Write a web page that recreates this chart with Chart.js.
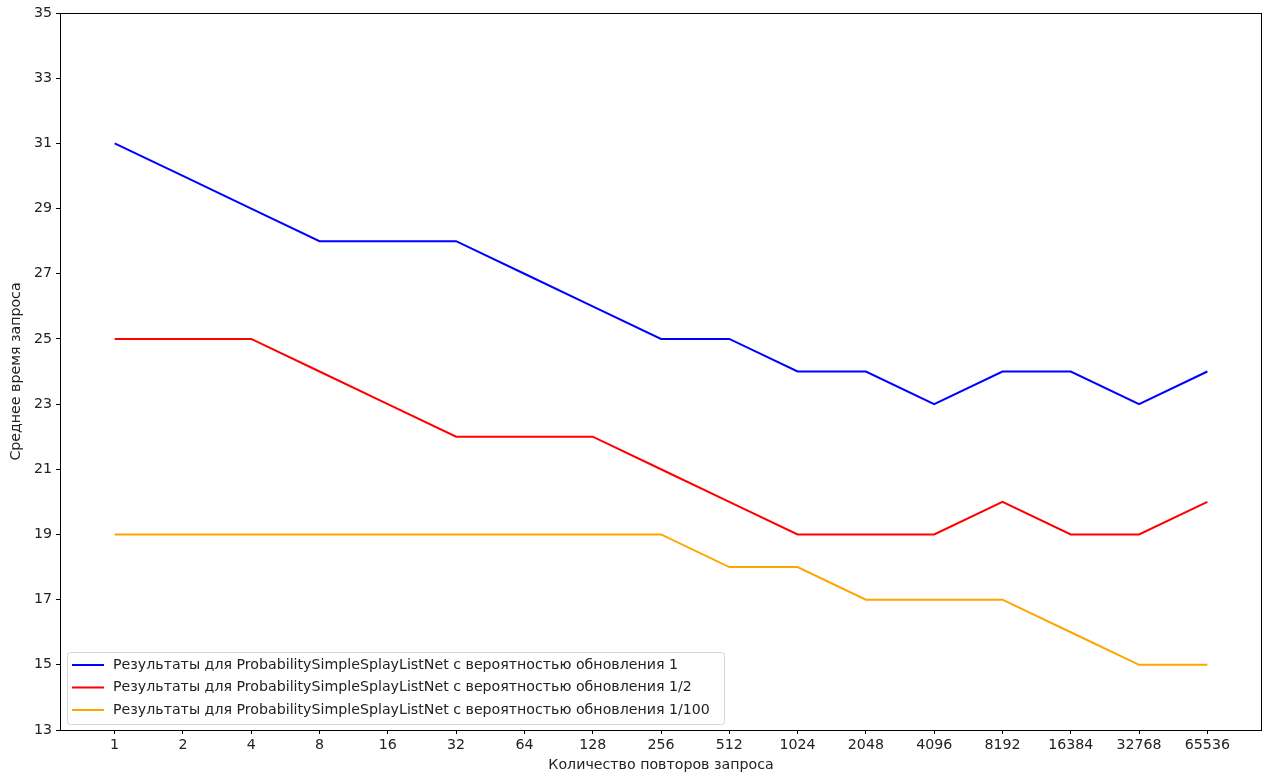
<!DOCTYPE html>
<html>
<head>
<meta charset="utf-8">
<script src="https://cdn.jsdelivr.net/npm/chart.js@4.4.1/dist/chart.umd.min.js"></script>
<style>
  html, body { margin: 0; padding: 0; background: #fff; }
  #wrap { width: 1272px; height: 776px; }
</style>
</head>
<body>
<div id="wrap"><canvas id="c" width="1272" height="776"></canvas></div>
<script>
// Number of query repetitions (x axis categories)
const repeats = ['1', '2', '4', '8', '16', '32', '64', '128', '256', '512', '1024', '2048', '4096', '8192', '16384', '32768', '65536'];

// Mean query time for each update probability
const probOne     = [31, 30, 29, 28, 28, 28, 27, 26, 25, 25, 24, 24, 23, 24, 24, 23, 24];
const probHalf    = [25, 25, 25, 24, 23, 22, 22, 22, 21, 20, 19, 19, 19, 20, 19, 19, 20];
const probHundred = [19, 19, 19, 19, 19, 19, 19, 19, 19, 18, 18, 17, 17, 17, 16, 15, 15];

// Y axis tick values
const yTicks = [13, 15, 17, 19, 21, 23, 25, 27, 29, 31, 33, 35];

const seriesLabels = [
  'Результаты для ProbabilitySimpleSplayListNet с вероятностью обновления 1',
  'Результаты для ProbabilitySimpleSplayListNet с вероятностью обновления 1/2',
  'Результаты для ProbabilitySimpleSplayListNet с вероятностью обновления 1/100'
];

const toPoints = vals => vals.map((v, i) => ({ x: i, y: v }));
const FONT = 'DejaVu Sans';
const FS = 14.2;

// Frame around the plotting area plus a legend box in the lower left corner
const framePlugin = {
  id: 'frame',
  afterDraw(chart) {
    const { ctx, chartArea: a } = chart;
    ctx.save();
    ctx.strokeStyle = '#000';
    ctx.lineWidth = 1;
    ctx.strokeRect(a.left + 0.5, a.top + 0.5, a.right - a.left - 1, a.bottom - a.top);

    // legend
    const bx = a.left + 7, by = a.bottom - 78, bw = 657, bh = 72;
    ctx.beginPath();
    ctx.roundRect(bx + 0.5, by + 0.5, bw, bh, 3);
    ctx.fillStyle = 'rgba(255,255,255,0.8)';
    ctx.fill();
    ctx.strokeStyle = '#d6d6d6';
    ctx.stroke();
    ctx.font = FS + 'px "' + FONT + '"';
    ctx.textBaseline = 'middle';
    chart.data.datasets.forEach((ds, i) => {
      const y = by + 13 + i * 22.5;
      ctx.beginPath();
      ctx.moveTo(bx + 5, y);
      ctx.lineTo(bx + 37, y);
      ctx.strokeStyle = ds.borderColor;
      ctx.lineWidth = 2;
      ctx.stroke();
      ctx.fillStyle = '#222';
      ctx.fillText(ds.label, bx + 46, y);
    });
    ctx.restore();
  }
};

const colors = ['#0000ff', '#ff0000', '#ffa500'];
const seriesData = [probOne, probHalf, probHundred];

new Chart(document.getElementById('c'), {
  type: 'line',
  data: {
    datasets: seriesData.map((vals, i) => ({
      label: seriesLabels[i],
      data: toPoints(vals),
      borderColor: colors[i],
      backgroundColor: colors[i],
      borderWidth: 2,
      pointRadius: 0,
      tension: 0,
      fill: false
    }))
  },
  options: {
    responsive: false,
    animation: false,
    devicePixelRatio: 1,
    layout: { padding: { left: 0, right: 10, top: 13, bottom: 0 } },
    plugins: { legend: { display: false }, tooltip: { enabled: false } },
    scales: {
      x: {
        type: 'linear',
        min: -0.8,
        max: 16.8,
        afterBuildTicks(scale) {
          scale.ticks = repeats.map((_, i) => ({ value: i }));
        },
        afterFit(scale) { scale.height = 46; },
        ticks: {
          callback: v => repeats[v],
          color: '#222',
          font: { family: FONT, size: FS },
          padding: 3,
          maxRotation: 0,
          autoSkip: false
        },
        grid: { drawOnChartArea: false, drawTicks: true, tickLength: 4, color: '#000' },
        border: { display: false },
        title: {
          display: true,
          text: 'Количество повторов запроса',
          color: '#222',
          font: { family: FONT, size: FS },
          padding: { top: 0, bottom: 2 }
        }
      },
      y: {
        type: 'linear',
        min: 13,
        max: 35,
        afterBuildTicks(scale) {
          scale.ticks = yTicks.map(v => ({ value: v }));
        },
        afterFit(scale) { scale.width = 60; },
        ticks: {
          color: '#222',
          font: { family: FONT, size: FS },
          padding: 4
        },
        grid: { drawOnChartArea: false, drawTicks: true, tickLength: 4, color: '#000' },
        border: { display: false },
        title: {
          display: true,
          text: 'Среднее время запроса',
          color: '#222',
          font: { family: FONT, size: FS },
          padding: { top: 8, bottom: 2 }
        }
      }
    }
  },
  plugins: [framePlugin]
});
</script>
</body>
</html>
